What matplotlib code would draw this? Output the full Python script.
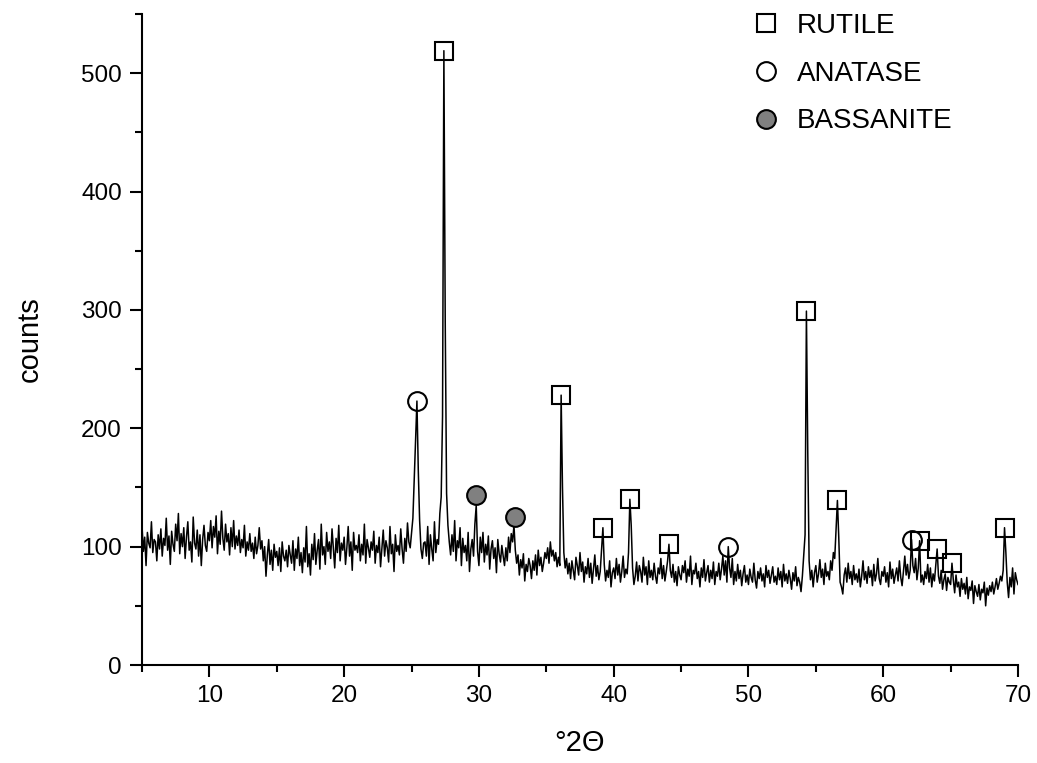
import numpy as np
import matplotlib
matplotlib.use('Agg')
import matplotlib.pyplot as plt
from matplotlib.lines import Line2D
from matplotlib.ticker import MultipleLocator

plt.rcParams['font.family'] = ['Liberation Sans', 'DejaVu Sans']

# scan: 5.0 -> 70.0 deg 2theta, step 0.1 (one row per degree)
scan_start, scan_step = 5.0, 0.1
counts_rows = [
    [118, 96, 108, 84, 112, 103, 99, 121, 95, 106],    # 5
    [104, 88, 110, 98, 115, 92, 107, 101, 124, 97],    # 6
    [109, 85, 113, 102, 96, 119, 105, 128, 94, 111],   # 7
    [100, 116, 90, 108, 121, 97, 104, 87, 125, 103],   # 8
    [98, 114, 92, 110, 84, 106, 118, 101, 96, 112],    # 9
    [105, 122, 99, 117, 108, 126, 94, 113, 102, 130],  # 10
    [107, 97, 119, 104, 111, 93, 116, 100, 122, 98],   # 11
    [109, 101, 114, 95, 106, 99, 118, 92, 104, 97],    # 12
    [111, 96, 103, 90, 108, 94, 101, 116, 98, 105],    # 13
    [88, 100, 75, 93, 106, 85, 97, 80, 102, 91],       # 14
    [96, 84, 99, 79, 104, 92, 88, 97, 83, 101],        # 15
    [93, 86, 105, 80, 98, 90, 108, 84, 95, 78],        # 16
    [99, 87, 117, 83, 94, 76, 102, 89, 111, 85],       # 17
    [97, 106, 81, 119, 93, 100, 85, 112, 96, 104],     # 18
    [90, 115, 99, 82, 107, 95, 118, 88, 103, 97],      # 19
    [108, 85, 99, 117, 92, 104, 80, 112, 97, 101],     # 20
    [95, 110, 88, 102, 93, 119, 86, 106, 99, 91],      # 21
    [104, 97, 113, 86, 101, 95, 108, 83, 98, 114],     # 22
    [92, 105, 99, 87, 117, 94, 102, 79, 110, 96],      # 23
    [101, 93, 115, 98, 86, 107, 96, 120, 104, 99],     # 24
    [112, 124, 158, 190, 223, 165, 122, 98, 90, 103],  # 25
    [104, 92, 117, 85, 110, 98, 88, 121, 95, 106],     # 26
    [102, 128, 142, 210, 519, 290, 145, 118, 104, 93], # 27
    [110, 96, 122, 88, 105, 99, 116, 84, 107, 95],     # 28
    [101, 88, 112, 79, 98, 106, 92, 119, 135, 96],     # 29
    [84, 108, 95, 112, 87, 102, 93, 109, 81, 98],      # 30
    [105, 90, 99, 78, 106, 94, 87, 101, 92, 84],       # 31
    [99, 88, 108, 95, 111, 104, 118, 97, 86, 93],      # 32
    [76, 89, 82, 94, 71, 85, 79, 90, 84, 73],          # 33
    [88, 80, 93, 76, 97, 84, 91, 79, 86, 95],          # 34
    [90, 99, 86, 104, 92, 97, 88, 95, 83, 91],         # 35
    [84, 228, 150, 95, 82, 90, 77, 86, 73, 88],        # 36
    [80, 72, 91, 84, 76, 95, 79, 87, 70, 83],          # 37
    [77, 90, 74, 86, 69, 81, 93, 75, 84, 72],          # 38
    [79, 97, 116, 85, 71, 80, 74, 88, 66, 78],         # 39
    [82, 73, 90, 76, 85, 70, 79, 92, 74, 81],          # 40
    [77, 95, 140, 118, 82, 68, 75, 87, 71, 84],        # 41
    [79, 70, 91, 76, 83, 68, 88, 74, 80, 72],          # 42
    [86, 75, 69, 82, 77, 90, 73, 84, 71, 79],          # 43
    [88, 102, 80, 74, 85, 70, 79, 67, 83, 76],         # 44
    [72, 84, 78, 88, 70, 81, 75, 92, 68, 80],          # 45
    [77, 86, 73, 79, 66, 82, 74, 89, 71, 78],          # 46
    [84, 70, 80, 73, 87, 68, 79, 75, 86, 72],          # 47
    [81, 92, 76, 88, 70, 100, 82, 74, 90, 68],         # 48
    [79, 71, 85, 73, 80, 67, 77, 84, 70, 76],          # 49
    [68, 81, 74, 70, 86, 72, 65, 79, 73, 82],          # 50
    [71, 77, 66, 84, 74, 80, 69, 76, 83, 70],          # 51
    [75, 68, 82, 72, 79, 66, 85, 71, 77, 69],          # 52
    [80, 73, 64, 78, 71, 83, 67, 74, 70, 62],          # 53
    [75, 92, 110, 299, 180, 88, 72, 80, 66, 78],       # 54
    [84, 70, 77, 89, 74, 81, 68, 86, 75, 79],          # 55
    [72, 88, 80, 95, 90, 115, 139, 108, 70, 66],       # 56
    [60, 76, 82, 70, 86, 73, 79, 68, 84, 72],          # 57
    [77, 70, 81, 66, 75, 88, 72, 79, 69, 83],          # 58
    [74, 80, 67, 85, 71, 77, 90, 73, 68, 79],          # 59
    [75, 83, 70, 78, 66, 87, 73, 81, 69, 76],          # 60
    [82, 71, 88, 74, 67, 79, 92, 76, 85, 73],          # 61
    [80, 106, 84, 78, 90, 72, 82, 105, 70, 76],        # 62
    [68, 79, 73, 85, 70, 82, 66, 77, 71, 84],          # 63
    [98, 75, 69, 80, 64, 72, 77, 63, 74, 70],          # 64
    [68, 86, 72, 61, 76, 66, 70, 58, 73, 64],          # 65
    [69, 60, 74, 56, 66, 63, 71, 52, 67, 62],          # 66
    [58, 68, 55, 64, 61, 70, 50, 65, 59, 67],          # 67
    [62, 70, 60, 66, 73, 64, 69, 75, 71, 80],          # 68
    [116, 95, 70, 57, 74, 66, 82, 60, 78, 72],         # 69
    [68],                                              # 70
]
counts = np.array([v for row in counts_rows for v in row], dtype=float)
two_theta = scan_start + scan_step * np.arange(len(counts))

# phase markers (peak position, counts)
rutile_x = [27.4, 36.1, 39.2, 41.2, 44.1, 54.3, 56.6, 62.7, 64.0, 65.1, 69.0]
rutile_y = [519, 228, 116, 140, 102, 299, 139, 105, 98, 86, 116]
anatase_x = [25.4, 48.5, 62.1]
anatase_y = [223, 100, 106]
bassanite_x = [29.8, 32.7]
bassanite_y = [144, 125]

fig = plt.figure(figsize=(10.37, 7.63), dpi=100)
ax = fig.add_axes([142/1037, 1 - 665/763, (1018 - 142)/1037, (665 - 14)/763])

ax.plot(two_theta, counts, color='black', lw=1.1, zorder=2)

ms = 13.5
ax.plot(rutile_x, rutile_y, ls='none', marker='s', ms=ms, mfc='none', mec='black', mew=1.5, zorder=3)
ax.plot(anatase_x, anatase_y, ls='none', marker='o', ms=ms, mfc='none', mec='black', mew=1.5, zorder=3)
ax.plot(bassanite_x, bassanite_y, ls='none', marker='o', ms=ms, mfc='#808080', mec='black', mew=1.5, zorder=3)

ax.set_xlim(5, 70)
ax.set_ylim(0, 550)
ax.xaxis.set_major_locator(MultipleLocator(10))
ax.xaxis.set_minor_locator(MultipleLocator(5))
ax.yaxis.set_major_locator(MultipleLocator(100))
ax.yaxis.set_minor_locator(MultipleLocator(50))
ax.tick_params(which='major', length=8.5, width=1.5, labelsize=17.5, pad=6, direction='out')
ax.tick_params(which='minor', length=5, width=1.5, direction='out')
for side in ['top', 'right']:
    ax.spines[side].set_visible(False)
for side in ['left', 'bottom']:
    ax.spines[side].set_linewidth(1.5)

ax.set_xlabel('°2Θ', fontsize=21, labelpad=16)
ax.set_ylabel('counts', fontsize=21, labelpad=27)

handles = [
    Line2D([], [], ls='none', marker='s', ms=ms, mfc='none', mec='black', mew=1.5),
    Line2D([], [], ls='none', marker='o', ms=ms, mfc='none', mec='black', mew=1.5),
    Line2D([], [], ls='none', marker='o', ms=ms, mfc='#808080', mec='black', mew=1.5),
]
ax.legend(handles, ['RUTILE', 'ANATASE', 'BASSANITE'], loc='upper left',
          bbox_to_anchor=(752/1037, 1 - 13/763), bbox_transform=fig.transFigure,
          frameon=False, fontsize=20, borderpad=0, borderaxespad=0,
          handlelength=1.0, handletextpad=0.6, labelspacing=0.78)

fig.savefig('out.png', dpi=100)
